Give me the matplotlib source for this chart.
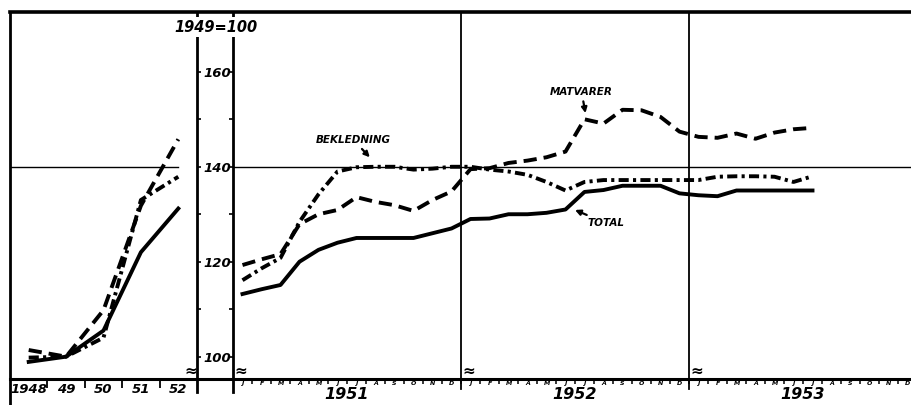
import numpy as np
import matplotlib.pyplot as plt

plt.rcParams['font.family'] = ['DejaVu Sans']
plt.rcParams['font.style'] = 'italic'
plt.rcParams['font.weight'] = 'bold'

# yearly index, 1949 = 100
years = [1948, 1949, 1950, 1951, 1952]
year_labels = ['1948', '49', '50', '51', '52']
total_year = [98.9, 100.0, 105.5, 122.0, 131.2]
matvarer_year = [101.4, 100.0, 109.8, 131.8, 145.8]
bekledning_year = [99.8, 100.0, 104.0, 133.0, 137.9]

# monthly index, Jan 1951 - Jul 1953
month_letters = ['J', 'F', 'M', 'A', 'M', 'J', 'J', 'A', 'S', 'O', 'N', 'D']
month_years = ['1951', '1952', '1953']
total_month = [113.2, 114.2, 115.1, 120.0, 122.5, 124.0, 125.0, 125.0, 125.0, 125.0, 126.0, 127.0,
               129.0, 129.1, 130.0, 130.0, 130.3, 131.0, 134.7, 135.1, 136.0, 136.0, 136.0, 134.4,
               134.0, 133.8, 135.0, 135.0, 135.0, 135.0, 135.0]
matvarer_month = [119.3, 120.5, 121.6, 127.9, 130.0, 130.9, 133.6, 132.6, 131.9, 130.7, 133.0, 134.8,
                  139.5, 139.7, 140.8, 141.3, 142.0, 143.2, 150.0, 149.1, 152.0, 151.9, 150.5, 147.4,
                  146.3, 146.1, 147.0, 145.9, 147.2, 147.9, 148.2]
bekledning_month = [116.1, 118.6, 120.8, 128.4, 134.2, 139.0, 139.9, 140.0, 140.0, 139.4, 139.6, 140.0,
                    140.0, 139.4, 139.0, 138.3, 136.8, 135.0, 136.8, 137.2, 137.2, 137.2, 137.2, 137.2,
                    137.2, 137.9, 138.0, 138.0, 137.9, 136.8, 138.0]

# layout in pixels
W, H = 911, 405
X0, XL, XR = 10, 197, 233
YT, YB = 12, 378.5
MONTH_PX = 19.0
YLIM = (95.4, 172.6)

lw = 2.8
dash = (3.4, 1.8)
dashdot = (2.6, 1.1, 0.8, 1.1)

fig = plt.figure(figsize=(W / 100, H / 100), dpi=100)
fig.patch.set_facecolor('white')

bottom = 1 - YB / H
height = (YB - YT) / H

# frame
axB = fig.add_axes([X0 / W, bottom, (W - X0) / W + 0.01, height])
axB.set_xlim(0, 1)
axB.set_ylim(*YLIM)
axB.set_xticks([])
axB.set_yticks([])
axB.spines['right'].set_visible(False)
axB.spines['top'].set_linewidth(2.6)
axB.spines['bottom'].set_linewidth(2.2)
axB.spines['left'].set_linewidth(2.0)
axB.spines['left'].set_bounds(YLIM[0] - 6.0, YLIM[1])
axB.spines['left'].set_clip_on(False)

# left panel: years
axL = fig.add_axes([X0 / W, bottom, (XL - X0) / W, height])
axL.patch.set_visible(False)
for s in axL.spines.values():
    s.set_visible(False)
axL.set_xlim(1947.5, 1952.5)
axL.set_ylim(*YLIM)
axL.plot(years, total_year, '-', color='k', lw=lw, solid_joinstyle='round')
axL.plot(years, matvarer_year, color='k', lw=lw, dashes=dash)
axL.plot(years, bekledning_year, color='k', lw=lw, dashes=dashdot)
axL.plot([1947.5, 1952.0], [140, 140], color='k', lw=1.0)
axL.axvline(1952.5, ymin=-0.036, ymax=1, color='k', lw=2.0, clip_on=False)
axL.set_xticks(years)
axL.set_xticklabels(year_labels)
axL.set_xticks([1948.5, 1949.5, 1950.5, 1951.5], minor=True)
axL.tick_params(axis='x', which='major', length=0, pad=3, labelsize=9.5)
axL.tick_params(axis='x', which='minor', direction='out', length=6.5, width=1.3)
axL.set_yticks([100, 120, 140, 160])
axL.set_yticks([110, 130, 150], minor=True)
axL.yaxis.tick_right()
axL.tick_params(axis='y', which='both', direction='out', length=3, width=1.2,
                right=True, left=False, labelright=True, labelleft=False, pad=1.5, labelsize=9.5)

# right panel: months
axR = fig.add_axes([XR / W, bottom, (W - XR) / W, height])
axR.patch.set_visible(False)
for s in axR.spines.values():
    s.set_visible(False)
n_months = (W - XR) / MONTH_PX
axR.set_xlim(0, n_months)
axR.set_ylim(*YLIM)
mx = np.arange(len(total_month)) + 0.5
axR.plot(mx, total_month, '-', color='k', lw=lw, solid_joinstyle='round')
axR.plot(mx, matvarer_month, color='k', lw=lw, dashes=dash)
axR.plot(mx, bekledning_month, color='k', lw=lw, dashes=dashdot)
axR.axhline(140, color='k', lw=1.0)
axR.axvline(0, ymin=-0.036, ymax=1, color='k', lw=2.0, clip_on=False)
axR.axvline(12, ymin=-0.03, ymax=1, color='k', lw=1.3, clip_on=False)
axR.axvline(24, ymin=-0.03, ymax=1, color='k', lw=1.3, clip_on=False)
centers = np.arange(36) + 0.5
axR.set_xticks(centers)
axR.set_xticklabels(month_letters * 3)
axR.set_xticks(np.arange(1, 36), minor=True)
axR.tick_params(axis='x', which='major', length=0, pad=1.5, labelsize=4.5)
axR.tick_params(axis='x', which='minor', direction='out', length=3.5, width=1.1)
axR.set_yticks([100, 120, 140, 160])
axR.set_yticks([110, 130, 150], minor=True)
axR.tick_params(axis='y', which='both', direction='out', length=3, width=1.2,
                left=True, labelleft=False)
trR = axR.get_xaxis_transform()
for i, lab in enumerate(month_years):
    axR.text(12 * i + 6, -0.045, lab, transform=trR, ha='center', va='center', fontsize=11.5)

# broken axis marks
trL = axL.get_xaxis_transform()
axL.text(1952.5, 0.02, '≈', transform=trL, ha='right', va='center', fontsize=11)
for m in [0, 12, 24]:
    axR.text(m + 0.05, 0.02, '≈', transform=trR, ha='left', va='center', fontsize=11)

# index base label
fig.text(216 / W, 1 - 27 / H, '1949=100', ha='center', va='center', fontsize=10.5,
         bbox=dict(facecolor='white', edgecolor='none', pad=1.5))

# series labels
arrow = dict(arrowstyle='-|>', color='k', lw=1.6, mutation_scale=8, shrinkA=1, shrinkB=0)
axR.annotate('BEKLEDNING', xy=(7.2, 142.0), xytext=(6.35, 145.6), ha='center', va='center',
             fontsize=7.5, arrowprops=arrow)
axR.annotate('MATVARER', xy=(18.55, 151.3), xytext=(18.35, 155.7), ha='center', va='center',
             fontsize=7.5, arrowprops=arrow)
axR.annotate('TOTAL', xy=(18.0, 130.9), xytext=(19.65, 128.1), ha='center', va='center',
             fontsize=7.5, arrowprops=arrow)

fig.savefig('out.png', dpi=100, facecolor='white')
